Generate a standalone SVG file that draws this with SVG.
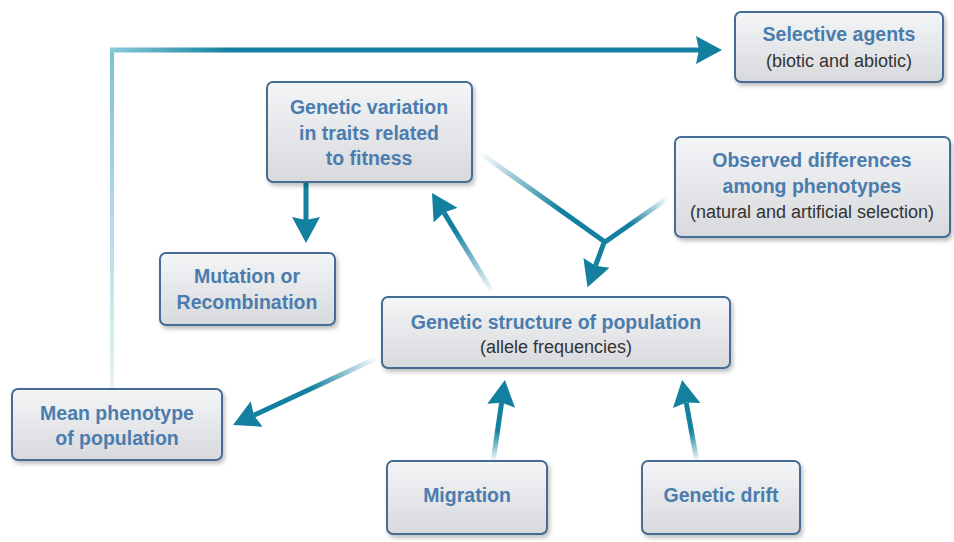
<svg xmlns="http://www.w3.org/2000/svg" width="954" height="542" viewBox="0 0 954 542">
<defs>
<style>
.box{fill:url(#boxg);stroke:#456c93;stroke-width:2;filter:url(#sh)}
.t{font-family:"Liberation Sans",Arial,sans-serif;font-weight:bold;font-size:19.5px;fill:#4a7cae;text-anchor:middle}
.s{font-family:"Liberation Sans",Arial,sans-serif;font-size:18px;fill:#333;text-anchor:middle}
.ar{fill:none;stroke-width:5;marker-end:url(#ah)}
</style>
<linearGradient id="boxg" x1="0" y1="0" x2="0" y2="1">
<stop offset="0" stop-color="#f4f5f7"/>
<stop offset="1" stop-color="#d8d9dc"/>
</linearGradient>
<filter id="sh" x="-10%" y="-10%" width="125%" height="130%">
<feDropShadow dx="2" dy="3" stdDeviation="2" flood-color="#000" flood-opacity="0.25"/>
</filter>
<marker id="ah" viewBox="0 0 26 28" markerWidth="26" markerHeight="28" refX="3" refY="14" orient="auto" markerUnits="userSpaceOnUse">
<path d="M0,0 L26,14 L0,28 L3,14 z" fill="#12809e"/>
</marker>
<linearGradient id="gv" gradientUnits="userSpaceOnUse" x1="0" y1="50" x2="0" y2="472">
<stop offset="0" stop-color="#7fc1d2"/>
<stop offset="1" stop-color="#7fc1d2" stop-opacity="0"/>
</linearGradient>
<linearGradient id="gh" gradientUnits="userSpaceOnUse" x1="110" y1="0" x2="230" y2="0">
<stop offset="0" stop-color="#8ccbd9"/>
<stop offset="1" stop-color="#12809e"/>
</linearGradient>
<linearGradient id="g3" gradientUnits="userSpaceOnUse" x1="493" y1="293" x2="455" y2="230">
<stop offset="0" stop-color="#12809e" stop-opacity="0"/>
<stop offset="1" stop-color="#12809e"/>
</linearGradient>
<linearGradient id="g4a" gradientUnits="userSpaceOnUse" x1="480" y1="153" x2="560" y2="210">
<stop offset="0" stop-color="#12809e" stop-opacity="0"/>
<stop offset="1" stop-color="#12809e"/>
</linearGradient>
<linearGradient id="g4b" gradientUnits="userSpaceOnUse" x1="668" y1="198" x2="630" y2="225">
<stop offset="0" stop-color="#12809e" stop-opacity="0"/>
<stop offset="1" stop-color="#12809e"/>
</linearGradient>
<linearGradient id="g5" gradientUnits="userSpaceOnUse" x1="377" y1="358" x2="310" y2="389">
<stop offset="0" stop-color="#12809e" stop-opacity="0"/>
<stop offset="1" stop-color="#12809e"/>
</linearGradient>
<linearGradient id="g6" gradientUnits="userSpaceOnUse" x1="493" y1="462" x2="497" y2="430">
<stop offset="0" stop-color="#12809e" stop-opacity="0"/>
<stop offset="1" stop-color="#12809e"/>
</linearGradient>
<linearGradient id="g7" gradientUnits="userSpaceOnUse" x1="697" y1="462" x2="692" y2="430">
<stop offset="0" stop-color="#12809e" stop-opacity="0"/>
<stop offset="1" stop-color="#12809e"/>
</linearGradient>
</defs>
<rect width="954" height="542" fill="#fff"/>
<g id="connectors">
<path d="M112,472 L112,50" fill="none" stroke="url(#gv)" stroke-width="4"/>
<path class="ar" d="M110,50 L699,50" stroke="url(#gh)"/>
<path class="ar" d="M306,183 L306,220" stroke="#12809e"/>
<path class="ar" d="M493,293 L444,212.6" stroke="url(#g3)"/>
<path d="M480,153 L605,242" fill="none" stroke="url(#g4a)" stroke-width="5"/>
<path d="M668,198 L605,242" fill="none" stroke="url(#g4b)" stroke-width="5"/>
<path class="ar" d="M605,240 L595.5,265.7" stroke="#12809e"/>
<path class="ar" d="M377,358 L253.9,415.3" stroke="url(#g5)"/>
<path class="ar" d="M493,462 L501.6,402.7" stroke="url(#g6)"/>
<path class="ar" d="M697,462 L686.2,402.6" stroke="url(#g7)"/>
</g>
<g id="selective-agents">
<rect class="box" x="735" y="12" width="208" height="70" rx="6"/>
<text class="t" x="839" y="41">Selective agents</text>
<text class="s" x="839" y="67">(biotic and abiotic)</text>
</g>
<g id="genetic-variation">
<rect class="box" x="267" y="82" width="205" height="100" rx="6"/>
<text class="t" x="369" y="114">Genetic variation</text>
<text class="t" x="369" y="140">in traits related</text>
<text class="t" x="369" y="165">to fitness</text>
</g>
<g id="observed-differences">
<rect class="box" x="675" y="137" width="275" height="100" rx="6"/>
<text class="t" x="812" y="167">Observed differences</text>
<text class="t" x="812" y="193">among phenotypes</text>
<text class="s" x="812" y="218">(natural and artificial selection)</text>
</g>
<g id="mutation">
<rect class="box" x="160" y="253" width="175" height="72" rx="6"/>
<text class="t" x="247" y="283">Mutation or</text>
<text class="t" x="247" y="309">Recombination</text>
</g>
<g id="genetic-structure">
<rect class="box" x="382" y="297" width="348" height="71" rx="6"/>
<text class="t" x="556" y="329">Genetic structure of population</text>
<text class="s" x="556" y="353">(allele frequencies)</text>
</g>
<g id="mean-phenotype">
<rect class="box" x="12" y="389" width="210" height="71" rx="6"/>
<text class="t" x="117" y="420">Mean phenotype</text>
<text class="t" x="117" y="445">of population</text>
</g>
<g id="migration">
<rect class="box" x="387" y="461" width="160" height="73" rx="6"/>
<text class="t" x="467" y="502">Migration</text>
</g>
<g id="genetic-drift">
<rect class="box" x="642" y="461" width="158" height="73" rx="6"/>
<text class="t" x="721" y="502">Genetic drift</text>
</g>
</svg>
